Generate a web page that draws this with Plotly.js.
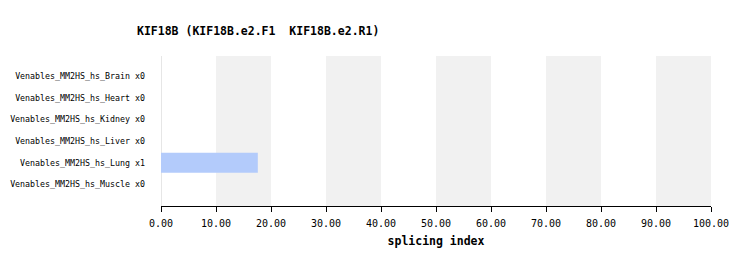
<!DOCTYPE html>
<html>
<head>
<meta charset="utf-8">
<script src="https://cdn.plot.ly/plotly-3.0.1.min.js"></script>
<style>html,body{margin:0;padding:0;background:#fff;}#chart{width:750px;height:266px;}</style>
</head>
<body>
<div id="chart"></div>
<script>
const categories = [
  "Venables_MM2HS_hs_Brain x0",
  "Venables_MM2HS_hs_Heart x0",
  "Venables_MM2HS_hs_Kidney x0",
  "Venables_MM2HS_hs_Liver x0",
  "Venables_MM2HS_hs_Lung x1",
  "Venables_MM2HS_hs_Muscle x0"
];
const values = [0, 0, 0, 0, 17.6, 0];
const bandStarts = [10, 30, 50, 70, 90];
const bandWidth = 10;
const titleText = "KIF18B (KIF18B.e2.F1  KIF18B.e2.R1)";
const xTitle = "splicing index";

const mono = "DejaVu Sans Mono, Liberation Mono, monospace";

const shapes = bandStarts.map(s => ({
  type: "rect", xref: "x", yref: "paper",
  x0: s, x1: s + bandWidth, y0: 0, y1: 1,
  fillcolor: "#f1f1f1", line: {width: 0}, layer: "below"
}));

const trace = {
  type: "bar", orientation: "h",
  x: values, y: categories,
  marker: {color: "#b3cbfb", line: {width: 0}},
  width: 0.92,
  hoverinfo: "x+y"
};

const layout = {
  width: 750, height: 266,
  margin: {l: 161, r: 39, t: 56, b: 60, pad: 0},
  paper_bgcolor: "#ffffff", plot_bgcolor: "#ffffff",
  showlegend: false,
  title: {
    text: "<b>" + titleText + "</b>",
    font: {family: mono, size: 11.5, color: "#000"},
    x: 137/750, xanchor: "left", xref: "container",
    y: 1 - 31/266, yanchor: "middle", yref: "container"
  },
  xaxis: {
    range: [0, 100], dtick: 10, tick0: 0,
    tickformat: ".2f",
    ticks: "outside", ticklen: 5, tickcolor: "#000", tickwidth: 1,
    ticklabelstandoff: 3,
    showline: true, linecolor: "#000", linewidth: 1,
    showgrid: false, zeroline: true, zerolinecolor: "#e6e6e6", zerolinewidth: 1,
    tickfont: {family: mono, size: 10, color: "#000"},
    title: {text: "<b>" + xTitle + "</b>", font: {family: mono, size: 11.5, color: "#000"}, standoff: 8},
    fixedrange: true
  },
  yaxis: {
    type: "category",
    categoryorder: "array", categoryarray: categories,
    range: [6.0, -0.93],
    showgrid: false, zeroline: false, showline: false,
    ticks: "", ticklabelstandoff: 15,
    tickfont: {family: mono, size: 8.3, color: "#000"},
    fixedrange: true
  },
  shapes: shapes
};

Plotly.newPlot("chart", [trace], layout, {displayModeBar: false, staticPlot: true});
</script>
</body>
</html>
